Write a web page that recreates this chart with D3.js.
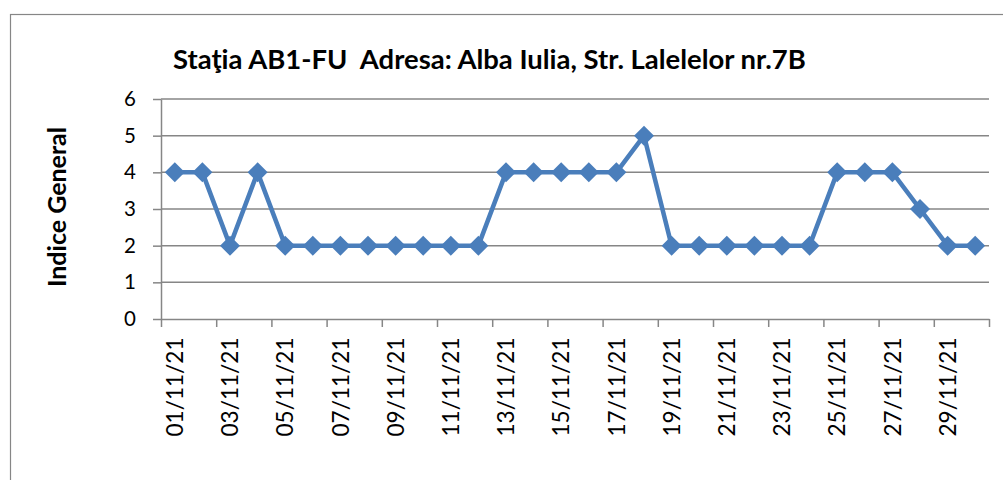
<!DOCTYPE html>
<html><head><meta charset="utf-8">
<script src="https://cdn.jsdelivr.net/npm/d3@7"></script>
<style>body{margin:0;background:#fff}svg{display:block}text{font-family:Lato,"Open Sans",sans-serif;fill:#000}</style>
</head><body>
<svg id="c" width="1003" height="480"></svg>
<script>
const dates = ["01/11/21","02/11/21","03/11/21","04/11/21","05/11/21","06/11/21","07/11/21","08/11/21","09/11/21","10/11/21","11/11/21","12/11/21","13/11/21","14/11/21","15/11/21","16/11/21","17/11/21","18/11/21","19/11/21","20/11/21","21/11/21","22/11/21","23/11/21","24/11/21","25/11/21","26/11/21","27/11/21","28/11/21","29/11/21","30/11/21"];
const values = [4,4,2,4,2,2,2,2,2,2,2,2,4,4,4,4,4,5,2,2,2,2,2,2,4,4,4,3,2,2];
const yTicks = [0,1,2,3,4,5,6];
const titleText = "Staţia AB1-FU  Adresa: Alba Iulia, Str. Lalelelor nr.7B";
const yTitle = "Indice General";

const svg = d3.select("#c");
const L = 161, R = 989, T = 99, B = 319;
const blue = "#4A7EBB", grey = "#868686";

function fit(sel, target){
  const w = sel.node().getComputedTextLength();
  const fs = parseFloat(sel.attr("font-size"));
  sel.attr("font-size", fs*target/w);
}

svg.append("rect").attr("x",10.5).attr("y",14.5).attr("width",1000).attr("height",500)
  .attr("fill","none").attr("stroke",grey).attr("stroke-width",1.2);

const x = d3.scaleBand().domain(dates).range([L,R]).padding(0);
const xi = d3.scaleLinear().domain([0,dates.length]).range([L,R]);
const y = d3.scaleLinear().domain([0,6]).range([B,T]);

// gridlines
svg.append("g").selectAll("line").data(yTicks.filter(d=>d>0)).join("line")
  .attr("x1",L).attr("x2",R).attr("y1",d=>y(d)).attr("y2",d=>y(d))
  .attr("stroke",grey).attr("stroke-width",1.5);

// y axis
const ya = svg.append("g").attr("transform",`translate(${L},0)`)
  .call(d3.axisLeft(y).tickValues(yTicks).tickFormat(d3.format("d")).tickSize(8).tickPadding(17).tickSizeOuter(0));
ya.select(".domain").attr("stroke",grey).attr("stroke-width",1.5);
ya.selectAll(".tick line").attr("stroke",grey).attr("stroke-width",1.5);
ya.selectAll(".tick text").attr("font-size",20.5).attr("font-family","Lato").attr("fill","#000");

// x axis ticks
const xa = svg.append("g").attr("transform",`translate(0,${B})`)
  .call(d3.axisBottom(xi).tickValues(d3.range(0,dates.length+1,2)).tickSize(8).tickFormat("").tickSizeOuter(0));
xa.select(".domain").attr("stroke",grey).attr("stroke-width",1.5);
xa.selectAll(".tick line").attr("stroke",grey).attr("stroke-width",1.5);

// x labels
const xl = svg.append("g").attr("transform",`translate(0,${B})`)
  .call(d3.axisBottom(x).tickValues(dates.filter((d,i)=>i%2===0)).tickSize(0).tickPadding(0));
xl.select(".domain").remove();
const xt = xl.selectAll(".tick text").attr("font-size",24).attr("font-family","Lato").attr("fill","#000")
  .attr("text-anchor","end").attr("transform","rotate(-90)").attr("x",-18.5).attr("y",0).attr("dy","0.36em");
{
  const w = xt.node().getComputedTextLength();
  xt.attr("font-size",24*99/w);
}

// line
svg.append("path").datum(values)
  .attr("fill","none").attr("stroke",blue).attr("stroke-width",4.5).attr("stroke-linejoin","round")
  .attr("d",d3.line().x((d,i)=>x(dates[i])+x.bandwidth()/2).y(d=>y(d)));

// markers
svg.append("g").selectAll("path").data(values).join("path")
  .attr("transform",(d,i)=>`translate(${x(dates[i])+x.bandwidth()/2},${y(d)})`)
  .attr("d","M0,-10L10,0L0,10L-10,0Z").attr("fill",blue);

// title
const t = svg.append("text").attr("x",173).attr("y",69).attr("font-size",24).attr("font-weight","bold")
  .style("white-space","pre").attr("xml:space","preserve").text(titleText);
fit(t,633);

// y title
const yt = svg.append("text").attr("transform","translate(66,207) rotate(-90)").attr("text-anchor","middle")
  .attr("font-size",20).attr("font-weight","bold").text(yTitle);
fit(yt,160);
</script>
</body></html>
